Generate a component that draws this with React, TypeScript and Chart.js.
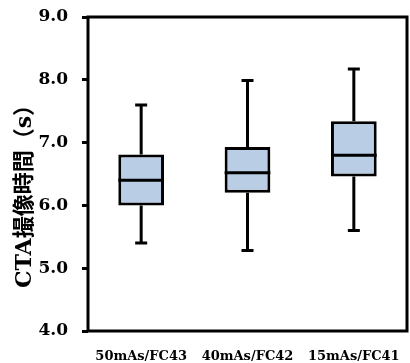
import React, { useEffect, useRef } from "react";
import { Chart, registerables } from "chart.js";

Chart.register(...registerables);

const categories = ["50mAs/FC43", "40mAs/FC42", "15mAs/FC41"];
const minValues = [5.4, 5.28, 5.6];
const q1Values = [6.0, 6.2, 6.46];
const medianValues = [6.4, 6.52, 6.8];
const q3Values = [6.81, 6.93, 7.34];
const maxValues = [7.6, 7.99, 8.17];
const yTicks = [4, 5, 6, 7, 8, 9];
const yTitle = "CTA撮像時間（s）";

const boxPlugin = {
  id: "boxExtras",
  beforeDatasetsDraw(chart: any) {
    const ctx = chart.ctx;
    const xs = chart.scales.x;
    const ys = chart.scales.y;
    ctx.save();
    ctx.strokeStyle = "#000";
    ctx.lineWidth = 3;
    ctx.lineCap = "butt";
    for (let i = 0; i < categories.length; i++) {
      const x = xs.getPixelForValue(i);
      const yMin = ys.getPixelForValue(minValues[i]);
      const yMax = ys.getPixelForValue(maxValues[i]);
      const yQ1 = ys.getPixelForValue(q1Values[i]);
      const yQ3 = ys.getPixelForValue(q3Values[i]);
      ctx.beginPath();
      ctx.moveTo(x, yMax);
      ctx.lineTo(x, yQ3);
      ctx.moveTo(x, yQ1);
      ctx.lineTo(x, yMin);
      ctx.moveTo(x - 6, yMax);
      ctx.lineTo(x + 6, yMax);
      ctx.moveTo(x - 6, yMin);
      ctx.lineTo(x + 6, yMin);
      ctx.stroke();
    }
    ctx.restore();
  },
  afterDatasetsDraw(chart: any) {
    const ctx = chart.ctx;
    const xs = chart.scales.x;
    const ys = chart.scales.y;
    const meta = chart.getDatasetMeta(0);
    ctx.save();
    ctx.strokeStyle = "#000";
    ctx.lineWidth = 3;
    for (let i = 0; i < categories.length; i++) {
      const x = xs.getPixelForValue(i);
      const w = meta.data[i].width;
      const y = ys.getPixelForValue(medianValues[i]);
      ctx.beginPath();
      ctx.moveTo(x - w / 2, y);
      ctx.lineTo(x + w / 2, y);
      ctx.stroke();
    }
    const a = chart.chartArea;
    ctx.strokeRect(a.left, a.top, a.right - a.left, a.bottom - a.top);
    // axis title
    ctx.translate(25, 191);
    ctx.rotate(-Math.PI / 2);
    ctx.fillStyle = "#000";
    ctx.font = "bold 22px 'DejaVu Serif', 'Noto Sans CJK JP'";
    ctx.textAlign = "center";
    ctx.textBaseline = "middle";
    ctx.fillText(yTitle, 0, 0);
    ctx.restore();
  },
};

export default function App() {
  const ref = useRef<HTMLCanvasElement | null>(null);
  useEffect(() => {
    if (!ref.current) return;
    const chart = new Chart(ref.current, {
      type: "bar",
      data: {
        labels: categories,
        datasets: [
          {
            data: categories.map((_, i) => [q1Values[i], q3Values[i]]) as any,
            backgroundColor: "#b9cde5",
            borderColor: "#000",
            borderWidth: 3,
            borderSkipped: false,
            barPercentage: 0.43,
            categoryPercentage: 1,
          },
        ],
      },
      options: {
        responsive: false,
        animation: false,
        layout: { padding: { left: 0, top: 17, right: 3, bottom: 0 } },
        plugins: { legend: { display: false }, tooltip: { enabled: false } },
        scales: {
          x: {
            grid: { display: false },
            border: { display: false },
            ticks: {
              color: "#000",
              padding: 10,
              maxRotation: 0,
              font: { family: "'DejaVu Serif'", weight: "bold", size: 13 },
            },
            afterFit: (s: any) => {
              s.height = 32;
              s.paddingLeft = 0;
              s.paddingRight = 0;
            },
          },
          y: {
            min: 4,
            max: 9,
            afterBuildTicks: (s: any) => {
              s.ticks = yTicks.map((v) => ({ value: v }));
            },
            grid: {
              drawOnChartArea: false,
              drawTicks: true,
              tickLength: 6,
              color: "#000",
              lineWidth: 3,
            },
            border: { display: false },
            ticks: {
              color: "#000",
              padding: 14,
              font: { family: "'DejaVu Serif'", weight: "bold", size: 17 },
              callback: (v: any) => Number(v).toFixed(1),
            },
            afterFit: (s: any) => {
              s.width = 88;
              s.paddingTop = 0;
              s.paddingBottom = 0;
            },
          },
        },
      },
      plugins: [boxPlugin],
    });
    return () => chart.destroy();
  }, []);
  return (
    <div style={{ position: "absolute", left: 0, top: 0, width: 410, height: 363, background: "#fff" }}>
      <canvas ref={ref} width={410} height={363} style={{ display: "block" }} />
    </div>
  );
}
